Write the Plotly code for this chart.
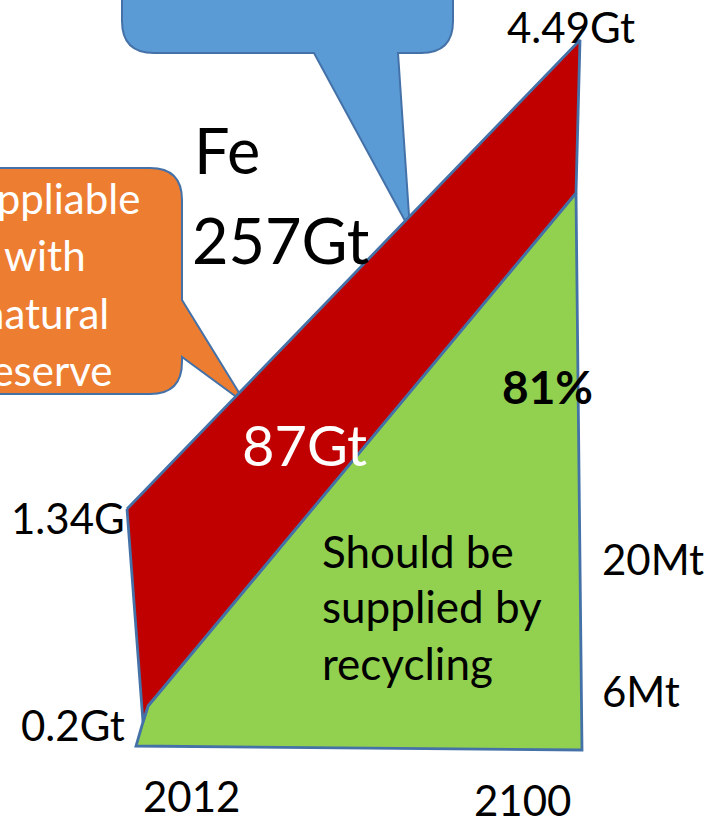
import plotly.graph_objects as go

# ---- Diagram data (canvas units: x to the right, y downward) ----
# Red band: primary supply from natural reserve (1.34Gt in 2012 -> 4.49Gt in 2100)
red_x = [127, 580, 576, 148, 143, 127]
red_y = [509, 40, 193, 706, 722, 509]
# Green area: should be supplied by recycling
green_x = [148, 576, 582, 136, 143, 148]
green_y = [706, 193, 750, 746, 722, 706]

# Text labels: (text, x_left, baseline, size, color, bold)
labels = [
    ("Fe", 192, 172, 63, "black", False),
    ("257Gt", 190, 262, 63, "black", False),
    ("4.49Gt", 505, 42, 42, "black", False),
    ("81%", 500, 403, 46, "black", True),
    ("87Gt", 240, 465, 56, "white", False),
    ("1.34G", 9, 533, 42, "black", False),
    ("0.2Gt", 19, 740, 42, "black", False),
    ("Should be", 320, 567, 44, "black", False),
    ("supplied by", 320, 622, 44, "black", False),
    ("recycling", 320, 679, 44, "black", False),
    ("20Mt", 600, 574, 42, "black", False),
    ("6Mt", 600, 706, 42, "black", False),
    ("2012", 141, 811, 42, "black", False),
    ("2100", 472, 815, 42, "black", False),
]
orange_lines = ["Suppliable", "with", "natural", "reserve"]
orange_baselines = [213, 270, 328, 385]
orange_center_x = 45

OUTLINE = "#4472a8"
FONT = "Lato"

fig = go.Figure()

# callouts (drawn below the polygons)
blue_path = ("M 122,-60 L 122,21 Q 122,53 154,53 L 314,53 L 410,230 L 398,53 "
             "L 421,53 Q 453,53 453,21 L 453,-60 Z")
orange_path = ("M -60,168 L 150,168 Q 182,168 182,200 L 182,300 L 246,404 "
               "L 182,357 L 182,362 Q 182,394 150,394 L -60,394 Z")
fig.add_shape(type="path", path=blue_path, xref="x", yref="y", layer="below",
              fillcolor="#5b9bd5", line=dict(color=OUTLINE, width=2))
fig.add_shape(type="path", path=orange_path, xref="x", yref="y", layer="below",
              fillcolor="#ed7d31", line=dict(color=OUTLINE, width=2))

fig.add_trace(go.Scatter(x=green_x, y=green_y, mode="lines", fill="toself",
                         fillcolor="#92d050", line=dict(color=OUTLINE, width=2.8),
                         hoverinfo="skip", showlegend=False))
fig.add_trace(go.Scatter(x=red_x, y=red_y, mode="lines", fill="toself",
                         fillcolor="#c00000", line=dict(color=OUTLINE, width=2.8),
                         hoverinfo="skip", showlegend=False))

def baseline_to_mid(b, size):
    return b - 0.36 * size

for text, x, b, size, color, bold in labels:
    fig.add_annotation(x=x, y=baseline_to_mid(b, size), xref="x", yref="y",
                       text=f"<b>{text}</b>" if bold else text, showarrow=False,
                       xanchor="left", yanchor="middle",
                       font=dict(family=FONT, size=size, color=color))

for text, b in zip(orange_lines, orange_baselines):
    fig.add_annotation(x=orange_center_x, y=baseline_to_mid(b, 42), xref="x", yref="y",
                       text=text, showarrow=False, xanchor="center", yanchor="middle",
                       font=dict(family=FONT, size=42, color="white"))

fig.update_layout(
    width=713, height=820,
    margin=dict(l=0, r=0, t=0, b=0),
    paper_bgcolor="white", plot_bgcolor="white",
    xaxis=dict(range=[0, 713], visible=False, fixedrange=True),
    yaxis=dict(range=[820, 0], visible=False, fixedrange=True),
    showlegend=False,
)

fig.write_html("out.html")
